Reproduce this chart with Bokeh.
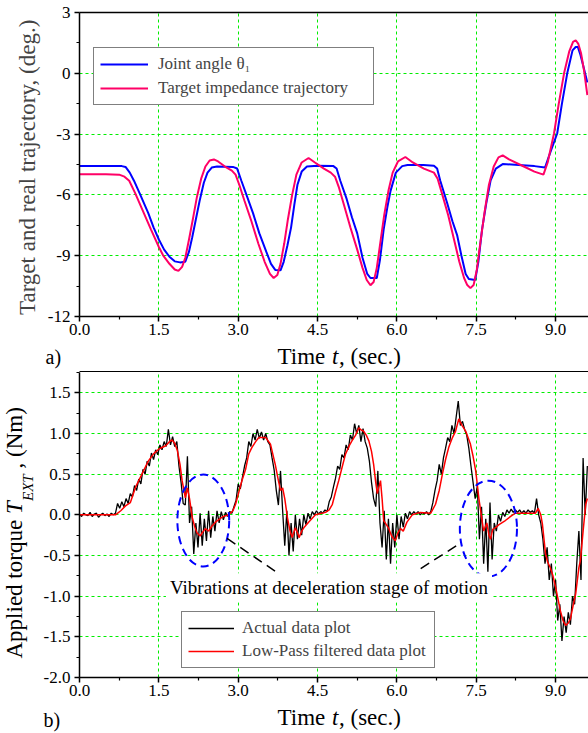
import numpy as np
from bokeh.plotting import figure
from bokeh.layouts import column, row
from bokeh.models import (Range1d, FixedTicker, PrintfTickFormatter, Legend,
                          LegendItem, Label, LinearAxis)
from bokeh.embed import file_html
from bokeh.resources import INLINE

FONT = "Liberation Serif"

# ---------------- data: panel a) ----------------
blue_t = [0.0, 0.5, 0.8, 0.87, 0.95, 1.03, 1.15, 1.3, 1.4, 1.5, 1.6, 1.7, 1.8, 1.9, 2.0,
          2.07, 2.13, 2.2, 2.27, 2.35, 2.42, 2.5, 2.6, 2.9, 2.98, 3.06, 3.17, 3.28, 3.4,
          3.53, 3.62, 3.7, 3.8, 3.86, 3.93, 4.0, 4.06, 4.12, 4.2, 4.3, 4.5, 4.8, 4.86,
          4.93, 5.05, 5.15, 5.25, 5.35, 5.44, 5.5, 5.62, 5.68, 5.75, 5.82, 5.88, 5.98,
          6.1, 6.2, 6.5, 6.7, 6.76, 6.82, 6.95, 7.05, 7.14, 7.22, 7.3, 7.36, 7.48, 7.54,
          7.61, 7.69, 7.77, 7.87, 8.0, 8.3, 8.6, 8.8, 8.9, 9.03, 9.12, 9.22, 9.32, 9.38,
          9.42, 9.47, 9.52, 9.6]
blue_v = [-4.57, -4.57, -4.58, -4.62, -4.9, -5.3, -6.0, -6.9, -7.6, -8.2, -8.7, -9.05,
          -9.28, -9.33, -9.3, -8.8, -8.1, -7.2, -6.3, -5.4, -4.9, -4.65, -4.6, -4.62, -4.7,
          -5.3, -6.1, -6.9, -7.9, -8.8, -9.4, -9.7, -9.72, -9.3, -8.5, -7.6, -6.5, -5.5,
          -4.85, -4.6, -4.56, -4.58, -4.7, -5.3, -6.2, -7.1, -7.9, -9.1, -9.9, -10.1,
          -10.1, -9.2, -7.7, -6.6, -5.8, -4.9, -4.58, -4.52, -4.53, -4.56, -4.7, -5.3,
          -6.4, -7.3, -8.0, -9.0, -9.9, -10.15, -10.2, -9.3, -7.7, -6.4, -5.3, -4.7,
          -4.48, -4.52, -4.58, -4.65, -3.9, -2.97, -1.5, 0.0, 1.13, 1.3, 1.3, 0.9, 0.4,
          -0.45]

pink_t = [0.0, 0.5, 0.75, 0.85, 0.94, 1.05, 1.2, 1.35, 1.5, 1.58, 1.7, 1.8, 1.87, 1.94,
          2.0, 2.07, 2.15, 2.22, 2.3, 2.38, 2.46, 2.54, 2.62, 2.75, 2.88, 2.95, 3.02, 3.12,
          3.25, 3.38, 3.5, 3.6, 3.67, 3.74, 3.8, 3.87, 3.94, 4.02, 4.1, 4.2, 4.33, 4.45,
          4.62, 4.75, 4.83, 4.9, 5.0, 5.12, 5.25, 5.35, 5.43, 5.5, 5.56, 5.62, 5.69, 5.76,
          5.84, 5.92, 6.02, 6.16, 6.3, 6.51, 6.7, 6.77, 6.86, 6.97, 7.08, 7.18, 7.27, 7.33,
          7.39, 7.45, 7.51, 7.58, 7.66, 7.74, 7.83, 7.92, 8.0, 8.12, 8.4, 8.6, 8.77, 8.85,
          8.97, 9.06, 9.16, 9.26, 9.33, 9.38, 9.43, 9.48, 9.54, 9.6]
pink_v = [-4.98, -4.98, -5.0, -5.1, -5.3, -5.9, -6.8, -7.7, -8.57, -8.98, -9.4, -9.68,
          -9.75, -9.55, -9.1, -8.2, -7.1, -6.1, -5.2, -4.6, -4.3, -4.25, -4.35, -4.6, -4.8,
          -5.0, -5.5, -6.3, -7.3, -8.4, -9.3, -9.9, -10.1, -9.95, -9.4, -8.4, -7.2, -6.0,
          -5.0, -4.4, -4.18, -4.4, -4.7, -4.9, -5.1, -5.6, -6.5, -7.6, -8.7, -9.6, -10.2,
          -10.46, -10.3, -9.6, -8.3, -7.0, -5.8, -4.9, -4.35, -4.13, -4.4, -4.7, -4.9,
          -5.2, -6.0, -7.0, -8.2, -9.3, -10.1, -10.45, -10.6, -10.45, -9.7, -8.3, -6.8,
          -5.5, -4.6, -4.15, -4.05, -4.25, -4.6, -4.85, -5.0, -4.4, -2.97, -1.5, 0.0, 1.1,
          1.55, 1.63, 1.45, 1.0, 0.1, -1.08]

# ---------------- data: panel b) ----------------
red_t = [0.0, 0.68, 0.78, 0.87, 0.96, 1.06, 1.18, 1.3, 1.4, 1.5, 1.63, 1.7, 1.75, 1.8,
         1.85, 1.9, 1.94, 2.0, 2.04, 2.08, 2.13, 2.18, 2.22, 2.28, 2.32, 2.38, 2.44, 2.5,
         2.57, 2.65, 2.72, 2.82, 2.9, 2.95, 3.0, 3.07, 3.14, 3.2, 3.26, 3.33, 3.39, 3.52,
         3.61, 3.7, 3.76, 3.8, 3.84, 3.88, 3.93, 3.98, 4.02, 4.08, 4.12, 4.15, 4.2, 4.24,
         4.33, 4.46, 4.65, 4.72, 4.78, 4.84, 4.9, 4.97, 5.03, 5.1, 5.15, 5.22, 5.28, 5.33,
         5.37, 5.42, 5.47, 5.52, 5.56, 5.6, 5.63, 5.69, 5.72, 5.75, 5.8, 5.84, 5.9, 5.97,
         6.02, 6.07, 6.12, 6.19, 6.29, 6.44, 6.64, 6.73, 6.8, 6.86, 6.92, 6.98, 7.05, 7.11,
         7.17, 7.23, 7.3, 7.39, 7.44, 7.49, 7.55, 7.61, 7.64, 7.7, 7.74, 7.77, 7.81, 7.86,
         7.93, 8.05, 8.15, 8.24, 8.62, 8.67, 8.72, 8.75, 8.81, 8.85, 8.9, 8.95, 9.0, 9.05,
         9.09, 9.14, 9.19, 9.24, 9.28, 9.33, 9.38, 9.44, 9.47, 9.52, 9.57, 9.6]
red_v = [0.0, 0.0, 0.05, 0.11, 0.15, 0.34, 0.5, 0.66, 0.75, 0.81, 0.85, 0.9, 0.92, 0.88,
         0.79, 0.62, 0.42, 0.21, 0.33, 0.2, -0.03, -0.15, -0.22, -0.26, -0.22, -0.17, -0.2,
         -0.14, -0.09, -0.05, -0.02, 0.0, 0.05, 0.13, 0.25, 0.42, 0.56, 0.75, 0.83, 0.9,
         0.95, 0.95, 0.87, 0.62, 0.42, 0.3, 0.33, 0.2, -0.03, -0.2, -0.28, -0.16, -0.22,
         -0.28, -0.2, -0.16, -0.09, 0.0, 0.03, 0.06, 0.13, 0.28, 0.42, 0.6, 0.75, 0.85,
         0.91, 0.98, 1.07, 1.04, 1.03, 0.98, 0.91, 0.78, 0.62, 0.4, 0.26, 0.42, 0.2, -0.07,
         -0.12, -0.16, -0.26, -0.32, -0.22, -0.17, -0.2, -0.09, 0.0, 0.03, 0.02, 0.13, 0.3,
         0.5, 0.68, 0.83, 0.95, 1.03, 1.18, 1.1, 1.03, 0.87, 0.72, 0.54, 0.2, -0.07, -0.2,
         -0.1, -0.25, -0.3, -0.18, -0.16, -0.12, -0.07, -0.02, 0.02, 0.02, 0.08, 0.0,
         -0.11, -0.48, -0.58, -0.65, -0.75, -0.89, -1.05, -1.18, -1.3, -1.36, -1.33, -1.28,
         -1.12, -0.97, -0.65, -0.56, -0.2, 0.13, 0.2]

# measured torque, sampled every 0.04 s from 0.00 s to 9.60 s
black_t = np.round(np.arange(0, 241) * 0.04, 2)
black_v = [
    0.01, -0.02, 0.02, 0.00, -0.01, 0.03, -0.02, 0.01, 0.02, -0.03, 0.00, 0.02, -0.01,
    0.01, -0.02, 0.02, 0.00, 0.02, 0.14, 0.08, 0.16, 0.10, 0.20, 0.14, 0.26,
    0.22, 0.36, 0.30, 0.44, 0.38, 0.56, 0.50, 0.66, 0.60, 0.76, 0.68, 0.80, 0.74,
    0.86, 0.80, 0.90, 0.84, 1.05, 0.86, 0.96, 0.84, 0.90, 0.60, 0.40, 0.14,
    0.12, 0.72, -0.10, 0.10, -0.48, -0.10, -0.40, 0.02, -0.38, -0.05, -0.32, 0.05, -0.28,
    -0.02, -0.20, 0.05, -0.10, 0.04, -0.06, 0.03, -0.02, 0.04, 0.02, 0.10, 0.18,
    0.38, 0.32, 0.46, 0.60, 0.70, 0.90, 0.84, 1.00, 0.92, 1.05, 0.94, 1.02, 0.92,
    1.00, 0.90, 0.86, 0.70, 0.55, 0.30, 0.12, 0.54, 0.05, -0.38, 0.05, -0.50,
    -0.10, -0.45, 0.00, -0.30, -0.05, -0.25, 0.00, -0.12, 0.02, -0.05, 0.04, 0.00, 0.05,
    0.01, 0.04, 0.02, 0.06, 0.04, 0.16, 0.22, 0.34, 0.45, 0.60, 0.56, 0.74,
    0.70, 0.86, 0.80, 0.98, 0.92, 1.12, 1.00, 1.10, 0.90, 1.06, 0.90, 0.82, 0.66,
    0.40, 0.20, 0.10, 0.54, -0.10, -0.40, 0.05, -0.55, -0.05, -0.60, -0.10, -0.40,
    0.00, -0.30, -0.02, -0.15, 0.02, -0.05, 0.04, 0.00, 0.04, 0.01, 0.04, 0.00, 0.03,
    0.01, 0.04, 0.00, 0.04, 0.15, 0.30, 0.42, 0.62, 0.50, 0.70, 0.82, 0.95,
    0.90, 1.10, 1.00, 1.20, 1.40, 1.10, 1.15, 1.05, 0.98, 0.82, 0.60, 0.40, 0.20,
    0.35, -0.30, 0.10, -0.60, -0.05, -0.70, 0.15, -0.55, -0.10, -0.20, 0.00, -0.08,
    0.03, -0.02, 0.06, 0.02, 0.07, 0.03, 0.06, 0.03, 0.06, 0.02, 0.05, 0.02, 0.06,
    0.03, 0.05, 0.02, 0.20, 0.00, -0.10, -0.30, -0.60, -0.40, -0.80, -0.60, -1.00,
    -0.80, -1.30, -1.10, -1.55, -1.25, -1.45, -1.20, -1.35, -1.00, -1.10, -0.60, -0.20,
    -0.80, 0.70, 0.00, 0.60,
]

# ticks
x_ticks = [0.0, 1.5, 3.0, 4.5, 6.0, 7.5, 9.0]
x_minor = [0.75, 2.25, 3.75, 5.25, 6.75, 8.25]
ya_ticks = [-12, -9, -6, -3, 0, 3]
ya_minor = [-10.5, -7.5, -4.5, -1.5, 1.5]
yb_ticks = [-2.0, -1.5, -1.0, -0.5, 0.0, 0.5, 1.0, 1.5]
yb_minor = [-1.75, -1.25, -0.75, -0.25, 0.25, 0.75, 1.25, 1.75]

# annotation anchors for panel b)
ellipse_x = [2.34, 7.73]
ellipse_y = [-0.07, -0.17]
ellipse_w = [0.98, 1.08]
ellipse_h = [1.13, 1.18]
lead_x0 = [2.79, 6.45]
lead_y0 = [-0.29, -0.66]
lead_x1 = [3.76, 7.2]
lead_y1 = [-0.72, -0.35]

GRID = "#00ee00"


def style(p, yticks, yminor, yfmt, top_axis):
    p.outline_line_color = None
    p.background_fill_color = "white"
    p.border_fill_color = "white"
    p.axis.major_label_text_font = FONT
    for ax in (p.xaxis[0], p.yaxis[0]):
        ax.axis_line_width = 1.5
        ax.axis_line_color = "black"
        ax.major_tick_line_width = 1.5
        ax.minor_tick_line_width = 1.2
        ax.major_tick_out = 5
        ax.major_tick_in = 0
        ax.minor_tick_out = 3
        ax.minor_tick_in = 0
        ax.major_label_text_font = FONT
        ax.major_label_text_font_size = "17px"
        ax.major_label_text_color = "black"
    p.xaxis[0].major_label_standoff = 2
    p.yaxis[0].major_label_standoff = 4
    p.xaxis[0].ticker = FixedTicker(ticks=x_ticks, minor_ticks=x_minor)
    p.xaxis[0].formatter = PrintfTickFormatter(format="%.1f")
    p.yaxis[0].ticker = FixedTicker(ticks=yticks, minor_ticks=yminor)
    p.yaxis[0].formatter = PrintfTickFormatter(format=yfmt)
    for g in (p.xgrid[0], p.ygrid[0]):
        g.grid_line_color = GRID
        g.grid_line_dash = "3 3"
        g.grid_line_width = 1
    if top_axis:
        top = LinearAxis(ticker=FixedTicker(ticks=[]), major_tick_line_color=None,
                         minor_tick_line_color=None, axis_line_width=1.5,
                         major_label_standoff=0, axis_label_standoff=0)
        p.add_layout(top, "above")


def strip(w, h):
    """Blank text strip whose data units are pixels (x right, y up)."""
    s = figure(frame_width=w, frame_height=h, x_range=Range1d(0, w),
               y_range=Range1d(0, h), min_border=0, min_border_left=0,
               min_border_right=0, min_border_top=0, min_border_bottom=0,
               x_axis_location=None, y_axis_location=None, frame_align=False,
               output_backend="svg", toolbar_location=None)
    s.grid.visible = False
    s.outline_line_color = None
    s.background_fill_color = "white"
    s.border_fill_color = "white"
    return s


def txt(p, x, y, text, size, style_="normal", align="left", angle=0.0, bg=None):
    lab = Label(x=x, y=y, text=text, text_font=FONT, text_font_size=size,
                text_font_style=style_, text_align=align, text_baseline="middle",
                angle=angle, text_color="black")
    if bg is not None:
        lab.background_fill_color = bg
        lab.padding = 4
    p.add_layout(lab)


# ---------------- panel a) (page rows 0..343) ----------------
p1 = figure(frame_width=509, frame_height=304, min_border_left=79, min_border_right=0,
            min_border_top=12, min_border_bottom=27, frame_align=False,
            x_range=Range1d(0, 9.622), y_range=Range1d(-12, 3),
            output_backend="svg", toolbar_location=None)
style(p1, ya_ticks, ya_minor, "%d", True)
p1.yaxis[0].axis_label = "Target and real trajectory,  (deg.)"
p1.yaxis[0].axis_label_text_font = FONT
p1.yaxis[0].axis_label_text_font_size = "23px"
p1.yaxis[0].axis_label_text_font_style = "normal"
p1.yaxis[0].axis_label_standoff = 5

rb = p1.line(blue_t, blue_v, line_color="#0000ff", line_width=2)
rp = p1.line(pink_t, pink_v, line_color="#ff0066", line_width=2)

leg1 = Legend(items=[LegendItem(label="Joint angle θ₁", renderers=[rb]),
                     LegendItem(label="Target impedance trajectory", renderers=[rp])],
              location=(14, 211), padding=6, spacing=4, glyph_width=48, glyph_height=20,
              label_height=20, label_standoff=10, label_width=209,
              label_text_font=FONT, label_text_font_size="17px",
              border_line_color="black", border_line_width=1.5,
              background_fill_color="white", background_fill_alpha=1.0)
p1.add_layout(leg1)

# x title strip of panel a) (page rows 343..372); its bottom edge carries the
# top frame line of panel b)
sa = strip(588, 29)
txt(sa, 277, 16, "Time", "23px")
txt(sa, 331.5, 16, "t", "23px", "italic")
txt(sa, 338.5, 16, ", (sec.)", "23px")
txt(sa, 45, 15.5, "a)", "20px")
sa.segment(x0=[79], y0=[0.75], x1=[588], y1=[0.75], line_color="black", line_width=1.5)

# ---------------- panel b) (page rows 372..704) ----------------
p2 = figure(frame_width=509, frame_height=305, min_border_left=39, min_border_right=0,
            min_border_top=0, min_border_bottom=27, frame_align=False,
            x_range=Range1d(0, 9.622), y_range=Range1d(-2.0, 1.75),
            output_backend="svg", toolbar_location=None)
style(p2, yb_ticks, yb_minor, "%.1f", False)

rk = p2.line(black_t, black_v, line_color="black", line_width=1.3)
rr = p2.line(red_t, red_v, line_color="#ff0000", line_width=1.5)

p2.ellipse(x=ellipse_x, y=ellipse_y, width=ellipse_w, height=ellipse_h,
           fill_color=None, line_color="#0000ff", line_width=2, line_dash="8 5")
p2.segment(x0=lead_x0, y0=lead_y0, x1=lead_x1, y1=lead_y1, line_color="black",
           line_width=1.5, line_dash="10 6")

leg2 = Legend(items=[LegendItem(label="Actual data plot", renderers=[rk]),
                     LegendItem(label="Low-Pass filtered data plot", renderers=[rr])],
              location=(102, 9), padding=6, spacing=3, glyph_width=46, glyph_height=20,
              label_height=20, label_standoff=8, label_width=186,
              label_text_font=FONT, label_text_font_size="17px",
              border_line_color="black", border_line_width=1.5,
              background_fill_color="white", background_fill_alpha=1.0)
p2.add_layout(leg2)

txt(p2, 4.716, -0.897, "Vibrations at deceleration stage of motion", "19px",
    align="center", bg="white")

# y title strip of panel b) (page columns 0..40, rows 372..704)
sl = strip(40, 332)
ang = np.pi / 2
txt(sl, 14, 46, "Applied torque", "23px", angle=ang)
txt(sl, 14, 190.4, "T", "23px", "italic", angle=ang)
txt(sl, 27, 203.5, "EXT", "15px", "italic", angle=ang)
txt(sl, 14, 236, ", (Nm)", "23px", angle=ang)

# x title strip of panel b) (page rows 704..733)
sb = strip(588, 29)
txt(sb, 277, 16, "Time", "23px")
txt(sb, 331.5, 16, "t", "23px", "italic")
txt(sb, 338.5, 16, ", (sec.)", "23px")
txt(sb, 43, 14, "b)", "20px")

layout = column(p1, sa, row(sl, p2), sb)
open("out.html", "w").write(file_html(layout, INLINE))
